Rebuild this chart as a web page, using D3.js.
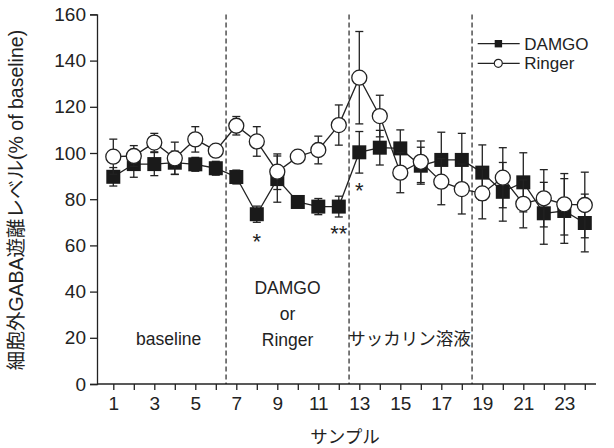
<!DOCTYPE html>
<html>
<head>
<meta charset="utf-8">
<script src="https://cdn.jsdelivr.net/npm/d3@7"></script>
<style>
  body { margin: 0; background: #fff; }
  svg text { font-family: "Liberation Sans", "Noto Sans CJK JP", sans-serif; fill: #222; }
</style>
</head>
<body>
<div id="chart"></div>
<script>
// sample numbers 1..24
var samples = [1,2,3,4,5,6,7,8,9,10,11,12,13,14,15,16,17,18,19,20,21,22,23,24];

// DAMGO group (filled squares), mean and SEM
var damgoMean = [89.7,95.2,95.2,95.8,95.1,93.4,89.6,73.5,88.7,78.8,76.8,76.8,100.3,102.3,102,94.5,97,97,91.5,83.2,87.3,73.9,74.9,69.7];
var damgoErr  = [4,5.7,5,5,3,3,3,3.5,10,2,3.5,4.5,9,7.5,8,8,12,11.5,12,12.7,12.8,13.4,14,12.5];

// Ringer group (open circles)
var ringerMean = [98.4,98.7,104.5,97.7,105.9,101,111.8,105,91.9,98.4,101.3,112.1,132.6,116,91.5,96.2,87.6,84.4,82.5,89.3,78,80.4,77.8,77.5];
var ringerErr  = [7.6,4.5,4,7,5.5,2,4,6.4,7.7,2,6,8.7,20,9,8.7,9,10,10.8,11,13,10.4,12.4,13.3,14.2];

var yTicks = [0,20,40,60,80,100,120,140,160];
var xTickLabels = [1,3,5,7,9,11,13,15,17,19,21,23];
var phaseBreaks = [6.5, 12.5, 18.5];

// significance marks: [sample, value position, label]
var sigMarks = [[8, 65, '*'], [12, 68.5, '**'], [13, 87, '*']];

var width = 614, height = 448;
var ink = '#222';

var svg = d3.select('#chart').append('svg')
  .attr('width', width)
  .attr('height', height);

var x = d3.scaleLinear().domain([0, 24]).range([92.8, 584.8]);
var y = d3.scaleLinear().domain([0, 160]).range([384, 14.4]);

// y axis
var yAxis = svg.append('g')
  .attr('transform', 'translate(97,0)')
  .call(d3.axisLeft(y).tickValues(yTicks).tickSize(7).tickPadding(4));
yAxis.select('.domain').attr('stroke', ink).attr('stroke-width', 1.3);
yAxis.selectAll('.tick line').attr('stroke', ink).attr('stroke-width', 1.3);
yAxis.selectAll('.tick text').style('font-size', '19px');

// x axis
var xAxis = svg.append('g')
  .attr('transform', 'translate(0,384)')
  .call(d3.axisBottom(x).tickValues(samples).tickSize(6).tickPadding(7)
    .tickFormat(function(d) { return xTickLabels.indexOf(d) >= 0 ? d : ''; }));
xAxis.select('.domain').attr('d', 'M97,0H596').attr('stroke', ink).attr('stroke-width', 1.3);
xAxis.selectAll('.tick line').attr('stroke', ink).attr('stroke-width', 1.3);
xAxis.selectAll('.tick text').style('font-size', '19px');

// dashed phase lines
svg.selectAll('line.phase')
  .data(phaseBreaks)
  .enter().append('line')
  .attr('class', 'phase')
  .attr('x1', function(d) { return x(d); })
  .attr('x2', function(d) { return x(d); })
  .attr('y1', y(160))
  .attr('y2', y(0))
  .attr('stroke', '#111')
  .attr('stroke-width', 1.1)
  .attr('stroke-dasharray', '5,3');

// phase labels
var phaseText = [
  {x: 3.7, lines: ['baseline'], y0: 339},
  {x: 9.5, lines: ['DAMGO', 'or', 'Ringer'], y0: 288},
  {x: 15.45, lines: ['サッカリン溶液'], y0: 339}
];
phaseText.forEach(function(p) {
  var t = svg.append('text')
    .attr('text-anchor', 'middle')
    .style('font-size', '17.5px');
  p.lines.forEach(function(s, i) {
    t.append('tspan')
      .attr('x', x(p.x))
      .attr('y', p.y0 + i * 26)
      .attr('dy', '0.35em')
      .text(s);
  });
});

function drawSeries(means, errs, kind) {
  var g = svg.append('g');
  var pts = samples.map(function(s, i) { return {s: s, m: means[i], e: errs[i]}; });

  // error bars
  pts.forEach(function(d) {
    g.append('line')
      .attr('x1', x(d.s)).attr('x2', x(d.s))
      .attr('y1', y(d.m + d.e)).attr('y2', y(d.m - d.e))
      .attr('stroke', ink).attr('stroke-width', 1.3);
    [d.m + d.e, d.m - d.e].forEach(function(v) {
      g.append('line')
        .attr('x1', x(d.s) - 4).attr('x2', x(d.s) + 4)
        .attr('y1', y(v)).attr('y2', y(v))
        .attr('stroke', ink).attr('stroke-width', 1.3);
    });
  });

  // connecting line
  g.append('path')
    .datum(pts)
    .attr('fill', 'none')
    .attr('stroke', ink)
    .attr('stroke-width', 1.3)
    .attr('d', d3.line().x(function(d) { return x(d.s); }).y(function(d) { return y(d.m); }));

  // markers
  if (kind === 'square') {
    g.selectAll('rect')
      .data(pts)
      .enter().append('rect')
      .attr('x', function(d) { return x(d.s) - 7; })
      .attr('y', function(d) { return y(d.m) - 7; })
      .attr('width', 14).attr('height', 14)
      .attr('fill', '#1a1a1a');
  } else {
    g.selectAll('circle')
      .data(pts)
      .enter().append('circle')
      .attr('cx', function(d) { return x(d.s); })
      .attr('cy', function(d) { return y(d.m); })
      .attr('r', 7.5)
      .attr('fill', '#fff')
      .attr('stroke', ink)
      .attr('stroke-width', 1.3);
  }
}

drawSeries(damgoMean, damgoErr, 'square');
drawSeries(ringerMean, ringerErr, 'circle');

// asterisks
svg.selectAll('text.sig')
  .data(sigMarks)
  .enter().append('text')
  .attr('class', 'sig')
  .attr('x', function(d) { return x(d[0]); })
  .attr('y', function(d) { return y(d[1]); })
  .attr('dy', '0.7em')
  .attr('text-anchor', 'middle')
  .style('font-size', '22px')
  .text(function(d) { return d[2]; });

// legend
var legend = svg.append('g').attr('transform', 'translate(477.7,43.7)');
[['DAMGO', 'square'], ['Ringer', 'circle']].forEach(function(item, i) {
  var row = legend.append('g').attr('transform', 'translate(0,' + (i * 19.6) + ')');
  row.append('line')
    .attr('x1', 0).attr('x2', 42)
    .attr('stroke', ink).attr('stroke-width', 1.3);
  if (item[1] === 'square') {
    row.append('rect').attr('x', 17).attr('y', -3.7).attr('width', 7.4).attr('height', 7.4).attr('fill', '#1a1a1a');
  } else {
    row.append('circle').attr('cx', 20.6).attr('r', 4).attr('fill', '#fff').attr('stroke', ink).attr('stroke-width', 1.2);
  }
  row.append('text')
    .attr('x', 46.6)
    .attr('dy', '0.36em')
    .style('font-size', '17px')
    .text(item[0]);
});

// axis titles
svg.append('text')
  .attr('x', 345)
  .attr('y', 437)
  .attr('dy', '0.35em')
  .attr('text-anchor', 'middle')
  .style('font-size', '17.5px')
  .text('サンプル');

svg.append('text')
  .attr('transform', 'translate(16,200) rotate(-90)')
  .attr('dy', '0.35em')
  .attr('text-anchor', 'middle')
  .style('font-size', '19.5px')
  .text('細胞外GABA遊離レベル(% of baseline)');
</script>
</body>
</html>
